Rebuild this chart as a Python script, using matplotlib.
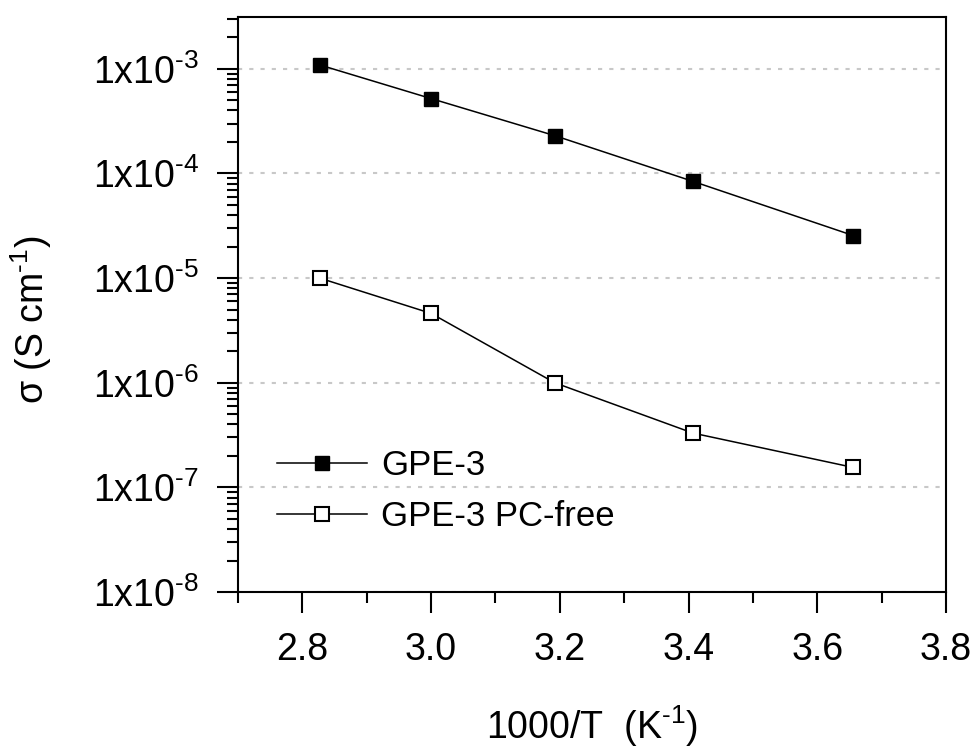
import numpy as np
import matplotlib
matplotlib.use("Agg")
import matplotlib.pyplot as plt
from matplotlib.ticker import LogLocator, MultipleLocator, FixedFormatter, NullFormatter

plt.rcParams['font.family'] = ['Liberation Sans', 'DejaVu Sans']
plt.rcParams['mathtext.fontset'] = 'custom'
plt.rcParams['mathtext.rm'] = 'Liberation Sans'
plt.rcParams['mathtext.it'] = 'Liberation Sans'

# data
inv_T = [2.827, 3.000, 3.192, 3.407, 3.656]
sigma_gpe3 = [1.09e-3, 5.2e-4, 2.3e-4, 8.4e-5, 2.55e-5]
sigma_pcfree = [1.0e-5, 4.6e-6, 1.0e-6, 3.3e-7, 1.55e-7]
labels = ['GPE-3', 'GPE-3 PC-free']
ytick_vals = [1e-8, 1e-7, 1e-6, 1e-5, 1e-4, 1e-3]
ytick_labels = [r'$\mathregular{1x10^{\text{-}%d}}$' % k for k in [8, 7, 6, 5, 4, 3]]

fig = plt.figure(figsize=(9.75, 7.47), dpi=100)
ax = fig.add_axes([238/975, 155/747, 708/975, 575/747])

ax.plot(inv_T, sigma_gpe3, color='black', lw=1.1, marker='s', ms=10.5,
        mfc='black', mec='black', mew=1, label=labels[0], zorder=3)
ax.plot(inv_T, sigma_pcfree, color='black', lw=1.1, marker='s', ms=9.5,
        mfc='white', mec='black', mew=1.5, label=labels[1], zorder=3)

ax.set_yscale('log')
ax.set_xlim(2.7, 3.8)
ax.set_ylim(1e-8, 3.13e-3)

ax.xaxis.set_major_locator(MultipleLocator(0.2))
ax.xaxis.set_minor_locator(MultipleLocator(0.1))
ax.yaxis.set_major_locator(plt.FixedLocator(ytick_vals))
ax.yaxis.set_major_formatter(FixedFormatter(ytick_labels))
ax.yaxis.set_minor_locator(LogLocator(base=10, subs=np.arange(2, 10)))
ax.yaxis.set_minor_formatter(NullFormatter())

ax.tick_params(which='both', direction='out', width=1.5, labelsize=27,
               top=False, right=False)
ax.tick_params(which='major', length=15)
ax.tick_params(which='minor', length=8)
ax.tick_params(axis='x', which='major', pad=14)
ax.tick_params(axis='y', which='major', pad=13)
for s in ax.spines.values():
    s.set_linewidth(1.5)

ax.yaxis.grid(True, which='major', color='#c8c8c8', lw=1.5,
              linestyle=(0, (2, 3.4)), zorder=0)
ax.set_axisbelow(True)

ax.set_xlabel(r'1000/T  (K$^{\mathregular{\text{-}1}}$)', fontsize=27)
ax.set_ylabel(r'$\mathregular{\sigma}$ (S cm$^{\mathregular{\text{-}1}}$)', fontsize=27)
ax.xaxis.set_label_coords(0.5, -0.193)
ax.yaxis.set_label_coords(-0.26, 0.473)

ax.legend(loc='center left', bbox_to_anchor=(0.055, 0.1757), frameon=False,
          fontsize=25, handlelength=2.6, handletextpad=0.4, labelspacing=0.52,
          borderpad=0, borderaxespad=0)

fig.savefig('out.png', dpi=100)
